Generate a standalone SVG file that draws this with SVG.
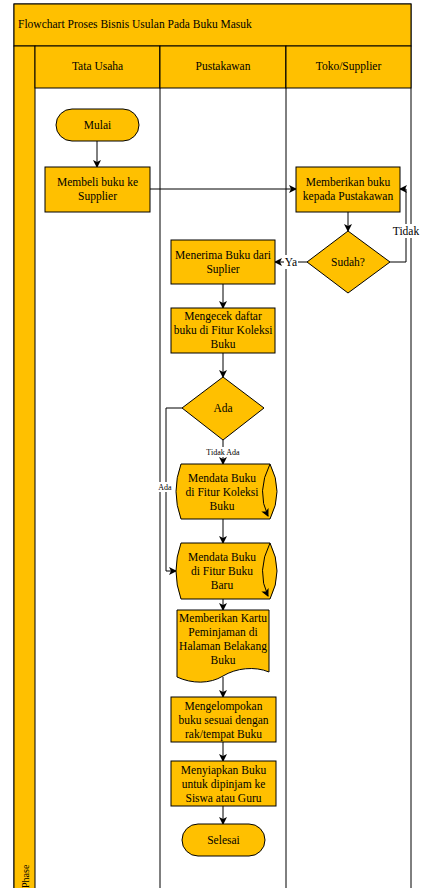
<svg xmlns="http://www.w3.org/2000/svg" width="422" height="888" viewBox="0 0 422 888">
<style>
.n{fill:#FFC000;stroke:#000;stroke-width:1}
.l{fill:none;stroke:#000;stroke-width:1}
.c{fill:none;stroke:#000;stroke-width:1}
text{font-family:"Liberation Serif","Times New Roman",serif;font-size:11.5px;fill:#000;text-anchor:middle}
.s{font-size:8px}
.bg{fill:#fff}
</style>
<defs>
<marker id="a" markerWidth="8" markerHeight="8" refX="7" refY="4" orient="auto" markerUnits="userSpaceOnUse">
<path d="M0,0 L8,4 L0,8 L2,4 Z" fill="#000"/>
</marker>
</defs>
<rect width="422" height="888" fill="#fff"/>
<g id="pool">
<rect x="14" y="4" width="397" height="900" class="l"/>
<rect x="14" y="4" width="397" height="42" class="n"/>
<text x="18" y="28" style="text-anchor:start">Flowchart Proses Bisnis Usulan Pada Buku Masuk</text>
<rect x="14" y="46" width="21" height="860" class="n"/>
<text transform="translate(29,888) rotate(-90)" style="text-anchor:start;font-size:10px">Phase</text>
</g>
<g id="lane1">
<rect x="35" y="46" width="125" height="42" class="n"/>
<line x1="160" y1="46" x2="160" y2="900" class="l"/>
<text x="97.5" y="70">Tata Usaha</text>
</g>
<g id="lane2">
<rect x="160" y="46" width="126" height="42" class="n"/>
<line x1="286" y1="46" x2="286" y2="900" class="l"/>
<text x="223" y="70">Pustakawan</text>
</g>
<g id="lane3">
<rect x="286" y="46" width="125" height="42" class="n"/>
<text x="348.5" y="70">Toko/Supplier</text>
</g>
<g id="connectors">
<line x1="97" y1="141" x2="97" y2="167" class="c" marker-end="url(#a)"/>
<line x1="150" y1="189" x2="296" y2="189" class="c" marker-end="url(#a)"/>
<line x1="348" y1="212" x2="348" y2="231" class="c" marker-end="url(#a)"/>
<polyline points="390,262 406,262 406,189 400,189" class="c" marker-end="url(#a)"/>
<line x1="307" y1="262" x2="275" y2="262" class="c" marker-end="url(#a)"/>
<line x1="223" y1="284" x2="223" y2="308" class="c" marker-end="url(#a)"/>
<line x1="223" y1="353" x2="223" y2="377" class="c" marker-end="url(#a)"/>
<line x1="223" y1="440" x2="223" y2="464" class="c" marker-end="url(#a)"/>
<polyline points="182,408 166,408 166,571 176,571" class="c" marker-end="url(#a)"/>
<line x1="223" y1="519" x2="223" y2="543" class="c" marker-end="url(#a)"/>
<line x1="223" y1="599" x2="223" y2="610" class="c" marker-end="url(#a)"/>
<line x1="223" y1="677" x2="223" y2="697" class="c" marker-end="url(#a)"/>
<line x1="223" y1="742" x2="223" y2="761" class="c" marker-end="url(#a)"/>
<line x1="223" y1="806" x2="223" y2="824" class="c" marker-end="url(#a)"/>
<rect x="393" y="224" width="27" height="14" class="bg"/>
<text x="406" y="235">Tidak</text>
<rect x="284" y="255" width="14" height="14" class="bg"/>
<text x="291" y="266">Ya</text>
<rect x="203" y="447" width="40" height="10" class="bg"/>
<text x="223" y="455" class="s">Tidak Ada</text>
<rect x="157" y="482" width="17" height="10" class="bg"/>
<text x="165" y="490" class="s">Ada</text>
</g>
<g id="mulai">
<rect x="56" y="109" width="83" height="32" rx="16" class="n"/>
<text x="97.5" y="129">Mulai</text>
</g>
<g id="membeli">
<rect x="45" y="167" width="105" height="45" class="n"/>
<text x="97.5" y="186">Membeli buku ke</text>
<text x="97.5" y="200">Supplier</text>
</g>
<g id="memberikan">
<rect x="296" y="167" width="104" height="45" class="n"/>
<text x="348" y="186">Memberikan buku</text>
<text x="348" y="200">kepada Pustakawan</text>
</g>
<g id="sudah">
<polygon points="348,231 390,262 348,293 307,262" class="n"/>
<text x="348" y="266">Sudah?</text>
</g>
<g id="menerima">
<rect x="171" y="240" width="104" height="44" class="n"/>
<text x="223" y="259">Menerima Buku dari</text>
<text x="223" y="273">Suplier</text>
</g>
<g id="mengecek">
<rect x="171" y="308" width="104" height="45" class="n"/>
<text x="223" y="320">Mengecek daftar</text>
<text x="223" y="334">buku di Fitur Koleksi</text>
<text x="223" y="348">Buku</text>
</g>
<g id="ada">
<polygon points="223,377 264,408 223,440 182,408" class="n"/>
<text x="223" y="412">Ada</text>
</g>
<g id="mendata1">
<path d="M181,464 L270,464 Q284,491.5 270,519 L181,519 Q171,491.5 181,464 Z" class="n"/>
<path d="M270,464 Q256,491.5 268,516" class="c" marker-end="url(#a)"/>
<text x="222" y="482">Mendata Buku</text>
<text x="222" y="496">di Fitur Koleksi</text>
<text x="222" y="510">Buku</text>
</g>
<g id="mendata2">
<path d="M181,543 L270,543 Q284,571 270,599 L181,599 Q171,571 181,543 Z" class="n"/>
<path d="M270,543 Q256,571 268,596" class="c" marker-end="url(#a)"/>
<text x="222" y="561">Mendata Buku</text>
<text x="222" y="575">di Fitur Buku</text>
<text x="222" y="589">Baru</text>
</g>
<g id="kartu">
<path d="M177,610 H269 V672 C255,666 236,668 223,676 C210,684 192,684 177,677 Z" class="n"/>
<text x="223" y="622">Memberikan Kartu</text>
<text x="223" y="636">Peminjaman di</text>
<text x="223" y="650">Halaman Belakang</text>
<text x="223" y="664">Buku</text>
</g>
<g id="mengelompokan">
<rect x="171" y="697" width="105" height="45" class="n"/>
<text x="223.5" y="710">Mengelompokan</text>
<text x="223.5" y="724">buku sesuai dengan</text>
<text x="223.5" y="738">rak/tempat Buku</text>
</g>
<g id="menyiapkan">
<rect x="171" y="761" width="105" height="45" class="n"/>
<text x="223.5" y="774">Menyiapkan Buku</text>
<text x="223.5" y="788">untuk dipinjam ke</text>
<text x="223.5" y="802">Siswa atau Guru</text>
</g>
<g id="selesai">
<rect x="182" y="824" width="83" height="32" rx="16" class="n"/>
<text x="223.5" y="844">Selesai</text>
</g>
</svg>
